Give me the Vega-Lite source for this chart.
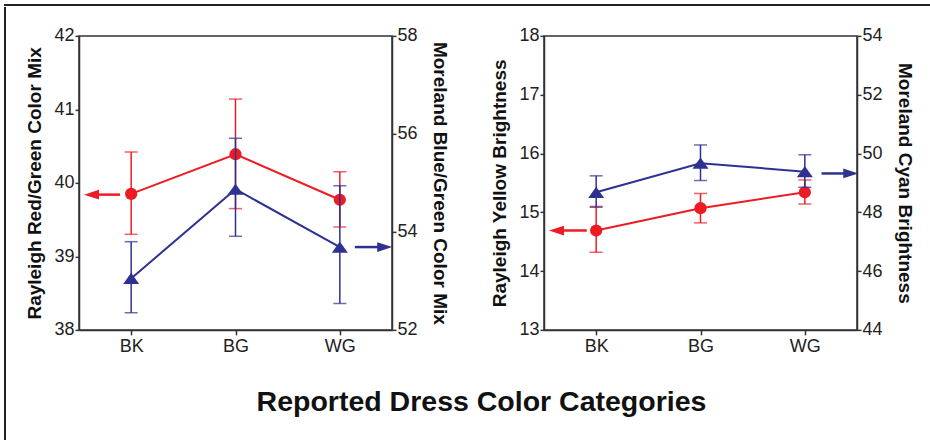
{
  "$schema": "https://vega.github.io/schema/vega-lite/v6.json",
  "padding": {"left": 4, "top": 4, "right": 0, "bottom": 0},
  "autosize": {"type": "pad"},
  "spacing": 0,
  "config": {
    "font": "Liberation Sans",
    "view": {"stroke": null},
    "axis": {
      "labelFont": "Liberation Sans", "labelFontSize": 18, "labelColor": "#222",
      "titleFont": "Liberation Sans", "titleFontSize": 19, "titleFontWeight": "bold", "titleColor": "#111",
      "domainColor": "#333", "domainWidth": 1.5, "tickColor": "#333", "tickWidth": 1.5, "tickSize": 4,
      "labelPadding": 1, "grid": false
    }
  },
  "datasets": {
    "p1": [
      {"pos": 1, "cat": "BK", "m": "R", "mean": 39.85, "lo": 39.30, "hi": 40.42},
      {"pos": 2, "cat": "BG", "m": "R", "mean": 40.39, "lo": 39.65, "hi": 41.14},
      {"pos": 3, "cat": "WG", "m": "R", "mean": 39.77, "lo": 39.40, "hi": 40.15},
      {"pos": 1, "cat": "BK", "m": "M", "mean": 53.05, "lo": 52.35, "hi": 53.80},
      {"pos": 2, "cat": "BG", "m": "M", "mean": 54.87, "lo": 53.91, "hi": 55.91},
      {"pos": 3, "cat": "WG", "m": "M", "mean": 53.69, "lo": 52.54, "hi": 54.94}
    ],
    "a1": [
      {"m": "R", "tail": 0.894, "head": 0.62, "y": 39.84},
      {"m": "M", "tail": 3.144, "head": 3.43, "y": 53.69}
    ],
    "p2": [
      {"pos": 1, "cat": "BK", "m": "R", "mean": 14.69, "lo": 14.32, "hi": 15.10},
      {"pos": 2, "cat": "BG", "m": "R", "mean": 15.07, "lo": 14.82, "hi": 15.32},
      {"pos": 3, "cat": "WG", "m": "R", "mean": 15.34, "lo": 15.14, "hi": 15.55},
      {"pos": 1, "cat": "BK", "m": "M", "mean": 48.68, "lo": 48.17, "hi": 49.24},
      {"pos": 2, "cat": "BG", "m": "M", "mean": 49.67, "lo": 49.08, "hi": 50.29},
      {"pos": 3, "cat": "WG", "m": "M", "mean": 49.38, "lo": 48.85, "hi": 49.96}
    ],
    "a2": [
      {"m": "R", "tail": 0.91, "head": 0.62, "y": 14.69},
      {"m": "M", "tail": 3.16, "head": 3.44, "y": 49.32}
    ]
  },
  "vconcat": [
    {
      "width": 925, "height": 0.01,
      "data": {"values": []},
      "mark": "rule", "encoding": {},
      "view": {"stroke": "#222", "strokeWidth": 2}
    },
    {
      "spacing": 18,
      "center": true,
      "hconcat": [
        {
          "width": 0.01, "height": 435,
          "data": {"values": []},
          "mark": "rule", "encoding": {},
          "view": {"stroke": "#222", "strokeWidth": 2}
        },
        {
          "spacing": 41,
          "title": {"text": "Reported Dress Color Categories", "orient": "bottom", "anchor": "middle", "fontSize": 28.5, "fontWeight": "bold", "font": "Liberation Sans", "color": "#111", "offset": 31, "dx": 12},
          "hconcat": [
            {
              "width": 313, "height": 294,
              "view": {"stroke": "#333", "strokeWidth": 1.5},
              "resolve": {"scale": {"y": "independent"}},
              "layer": [
                {
                  "data": {"name": "p1"},
                  "transform": [{"filter": "datum.m == 'R'"}],
                  "layer": [
                    {"mark": {"type": "rule", "color": "#ed1c24", "strokeWidth": 1.5},
                     "encoding": {
                       "x": {"field": "pos", "type": "quantitative", "scale": {"domain": [0.5, 3.5], "nice": false, "zero": false}, "axis": {"values": [1, 2, 3], "labelExpr": "datum.value == 1 ? 'BK' : datum.value == 2 ? 'BG' : 'WG'", "title": null, "tickSize": 5, "labelPadding": 3, "labelFontSize": 18, "labelFont": "Liberation Sans", "labelColor": "#222"}},
                       "y": {"field": "lo", "type": "quantitative", "scale": {"domain": [38, 42], "nice": false, "zero": false}, "axis": {"orient": "left", "values": [38, 39, 40, 41, 42], "format": "d", "labelFontSize": 18, "labelFont": "Liberation Sans", "labelColor": "#222", "labelPadding": 1, "tickSize": 4, "title": "Rayleigh Red/Green Color Mix", "titleFontSize": 19, "titleFontWeight": "bold", "titleFont": "Liberation Sans", "titleColor": "#111", "titlePadding": 9}},
                       "y2": {"field": "hi"}}},
                    {"mark": {"type": "tick", "orient": "horizontal", "color": "#ed1c24", "size": 13, "thickness": 1.5},
                     "encoding": {
                       "x": {"field": "pos", "type": "quantitative", "scale": {"domain": [0.5, 3.5], "nice": false, "zero": false}},
                       "y": {"field": "lo", "type": "quantitative", "scale": {"domain": [38, 42], "nice": false, "zero": false}}}},
                    {"mark": {"type": "tick", "orient": "horizontal", "color": "#ed1c24", "size": 13, "thickness": 1.5},
                     "encoding": {
                       "x": {"field": "pos", "type": "quantitative", "scale": {"domain": [0.5, 3.5], "nice": false, "zero": false}},
                       "y": {"field": "hi", "type": "quantitative", "scale": {"domain": [38, 42], "nice": false, "zero": false}}}},
                    {"mark": {"type": "line", "color": "#ed1c24", "strokeWidth": 2},
                     "encoding": {
                       "x": {"field": "pos", "type": "quantitative", "scale": {"domain": [0.5, 3.5], "nice": false, "zero": false}},
                       "y": {"field": "mean", "type": "quantitative", "scale": {"domain": [38, 42], "nice": false, "zero": false}}}},
                    {"mark": {"type": "point", "shape": "circle", "filled": true, "opacity": 1, "size": 150, "color": "#ed1c24"},
                     "encoding": {
                       "x": {"field": "pos", "type": "quantitative", "scale": {"domain": [0.5, 3.5], "nice": false, "zero": false}},
                       "y": {"field": "mean", "type": "quantitative", "scale": {"domain": [38, 42], "nice": false, "zero": false}}}},
                    {"data": {"name": "a1"}, "transform": [{"filter": "datum.m == 'R'"}],
                     "mark": {"type": "rule", "color": "#ed1c24", "strokeWidth": 2.5},
                     "encoding": {
                       "x": {"field": "tail", "type": "quantitative", "scale": {"domain": [0.5, 3.5], "nice": false, "zero": false}},
                       "x2": {"field": "head"},
                       "y": {"field": "y", "type": "quantitative", "scale": {"domain": [38, 42], "nice": false, "zero": false}}}},
                    {"data": {"name": "a1"}, "transform": [{"filter": "datum.m == 'R'"}],
                     "mark": {"type": "point", "shape": "M1,-0.65L-1,0L1,0.65Z", "filled": true, "opacity": 1, "size": 225, "color": "#ed1c24", "strokeWidth": 0},
                     "encoding": {
                       "x": {"field": "head", "type": "quantitative", "scale": {"domain": [0.5, 3.5], "nice": false, "zero": false}},
                       "y": {"field": "y", "type": "quantitative", "scale": {"domain": [38, 42], "nice": false, "zero": false}}}}
                  ]
                },
                {
                  "data": {"name": "p1"},
                  "transform": [{"filter": "datum.m == 'M'"}],
                  "layer": [
                    {"mark": {"type": "rule", "color": "#2e3192", "strokeWidth": 1.5},
                     "encoding": {
                       "x": {"field": "pos", "type": "quantitative", "scale": {"domain": [0.5, 3.5], "nice": false, "zero": false}},
                       "y": {"field": "lo", "type": "quantitative", "scale": {"domain": [52, 58], "nice": false, "zero": false}, "axis": {"orient": "right", "values": [52, 54, 56, 58], "format": "d", "labelFontSize": 18, "labelFont": "Liberation Sans", "labelColor": "#222", "labelPadding": 1, "tickSize": 4, "title": "Moreland Blue/Green Color Mix", "titleFontSize": 19, "titleFontWeight": "bold", "titleFont": "Liberation Sans", "titleColor": "#111", "titlePadding": 12}},
                       "y2": {"field": "hi"}}},
                    {"mark": {"type": "tick", "orient": "horizontal", "color": "#2e3192", "size": 13, "thickness": 1.5},
                     "encoding": {
                       "x": {"field": "pos", "type": "quantitative", "scale": {"domain": [0.5, 3.5], "nice": false, "zero": false}},
                       "y": {"field": "lo", "type": "quantitative", "scale": {"domain": [52, 58], "nice": false, "zero": false}}}},
                    {"mark": {"type": "tick", "orient": "horizontal", "color": "#2e3192", "size": 13, "thickness": 1.5},
                     "encoding": {
                       "x": {"field": "pos", "type": "quantitative", "scale": {"domain": [0.5, 3.5], "nice": false, "zero": false}},
                       "y": {"field": "hi", "type": "quantitative", "scale": {"domain": [52, 58], "nice": false, "zero": false}}}},
                    {"mark": {"type": "line", "color": "#2e3192", "strokeWidth": 2},
                     "encoding": {
                       "x": {"field": "pos", "type": "quantitative", "scale": {"domain": [0.5, 3.5], "nice": false, "zero": false}},
                       "y": {"field": "mean", "type": "quantitative", "scale": {"domain": [52, 58], "nice": false, "zero": false}}}},
                    {"mark": {"type": "point", "shape": "M0,-0.7L1,0.7L-1,0.7Z", "filled": true, "opacity": 1, "size": 256, "color": "#2e3192", "strokeWidth": 0},
                     "encoding": {
                       "x": {"field": "pos", "type": "quantitative", "scale": {"domain": [0.5, 3.5], "nice": false, "zero": false}},
                       "y": {"field": "mean", "type": "quantitative", "scale": {"domain": [52, 58], "nice": false, "zero": false}}}},
                    {"data": {"name": "a1"}, "transform": [{"filter": "datum.m == 'M'"}],
                     "mark": {"type": "rule", "color": "#2e3192", "strokeWidth": 2.5},
                     "encoding": {
                       "x": {"field": "tail", "type": "quantitative", "scale": {"domain": [0.5, 3.5], "nice": false, "zero": false}},
                       "x2": {"field": "head"},
                       "y": {"field": "y", "type": "quantitative", "scale": {"domain": [52, 58], "nice": false, "zero": false}}}},
                    {"data": {"name": "a1"}, "transform": [{"filter": "datum.m == 'M'"}],
                     "mark": {"type": "point", "shape": "M-1,-0.65L1,0L-1,0.65Z", "filled": true, "opacity": 1, "size": 225, "color": "#2e3192", "strokeWidth": 0},
                     "encoding": {
                       "x": {"field": "head", "type": "quantitative", "scale": {"domain": [0.5, 3.5], "nice": false, "zero": false}},
                       "y": {"field": "y", "type": "quantitative", "scale": {"domain": [52, 58], "nice": false, "zero": false}}}}
                  ]
                }
              ]
            },
            {
              "width": 313, "height": 294,
              "view": {"stroke": "#333", "strokeWidth": 1.5},
              "resolve": {"scale": {"y": "independent"}},
              "layer": [
                {
                  "data": {"name": "p2"},
                  "transform": [{"filter": "datum.m == 'R'"}],
                  "layer": [
                    {"mark": {"type": "rule", "color": "#ed1c24", "strokeWidth": 1.5},
                     "encoding": {
                       "x": {"field": "pos", "type": "quantitative", "scale": {"domain": [0.5, 3.5], "nice": false, "zero": false}, "axis": {"values": [1, 2, 3], "labelExpr": "datum.value == 1 ? 'BK' : datum.value == 2 ? 'BG' : 'WG'", "title": null, "tickSize": 5, "labelPadding": 3, "labelFontSize": 18, "labelFont": "Liberation Sans", "labelColor": "#222"}},
                       "y": {"field": "lo", "type": "quantitative", "scale": {"domain": [13, 18], "nice": false, "zero": false}, "axis": {"orient": "left", "values": [13, 14, 15, 16, 17, 18], "format": "d", "labelFontSize": 18, "labelFont": "Liberation Sans", "labelColor": "#222", "labelPadding": 1, "tickSize": 4, "title": "Rayleigh Yellow Brightness", "titleFontSize": 19, "titleFontWeight": "bold", "titleFont": "Liberation Sans", "titleColor": "#111", "titlePadding": 9}},
                       "y2": {"field": "hi"}}},
                    {"mark": {"type": "tick", "orient": "horizontal", "color": "#ed1c24", "size": 13, "thickness": 1.5},
                     "encoding": {
                       "x": {"field": "pos", "type": "quantitative", "scale": {"domain": [0.5, 3.5], "nice": false, "zero": false}},
                       "y": {"field": "lo", "type": "quantitative", "scale": {"domain": [13, 18], "nice": false, "zero": false}}}},
                    {"mark": {"type": "tick", "orient": "horizontal", "color": "#ed1c24", "size": 13, "thickness": 1.5},
                     "encoding": {
                       "x": {"field": "pos", "type": "quantitative", "scale": {"domain": [0.5, 3.5], "nice": false, "zero": false}},
                       "y": {"field": "hi", "type": "quantitative", "scale": {"domain": [13, 18], "nice": false, "zero": false}}}},
                    {"mark": {"type": "line", "color": "#ed1c24", "strokeWidth": 2},
                     "encoding": {
                       "x": {"field": "pos", "type": "quantitative", "scale": {"domain": [0.5, 3.5], "nice": false, "zero": false}},
                       "y": {"field": "mean", "type": "quantitative", "scale": {"domain": [13, 18], "nice": false, "zero": false}}}},
                    {"mark": {"type": "point", "shape": "circle", "filled": true, "opacity": 1, "size": 150, "color": "#ed1c24"},
                     "encoding": {
                       "x": {"field": "pos", "type": "quantitative", "scale": {"domain": [0.5, 3.5], "nice": false, "zero": false}},
                       "y": {"field": "mean", "type": "quantitative", "scale": {"domain": [13, 18], "nice": false, "zero": false}}}},
                    {"data": {"name": "a2"}, "transform": [{"filter": "datum.m == 'R'"}],
                     "mark": {"type": "rule", "color": "#ed1c24", "strokeWidth": 2.5},
                     "encoding": {
                       "x": {"field": "tail", "type": "quantitative", "scale": {"domain": [0.5, 3.5], "nice": false, "zero": false}},
                       "x2": {"field": "head"},
                       "y": {"field": "y", "type": "quantitative", "scale": {"domain": [13, 18], "nice": false, "zero": false}}}},
                    {"data": {"name": "a2"}, "transform": [{"filter": "datum.m == 'R'"}],
                     "mark": {"type": "point", "shape": "M1,-0.65L-1,0L1,0.65Z", "filled": true, "opacity": 1, "size": 225, "color": "#ed1c24", "strokeWidth": 0},
                     "encoding": {
                       "x": {"field": "head", "type": "quantitative", "scale": {"domain": [0.5, 3.5], "nice": false, "zero": false}},
                       "y": {"field": "y", "type": "quantitative", "scale": {"domain": [13, 18], "nice": false, "zero": false}}}}
                  ]
                },
                {
                  "data": {"name": "p2"},
                  "transform": [{"filter": "datum.m == 'M'"}],
                  "layer": [
                    {"mark": {"type": "rule", "color": "#2e3192", "strokeWidth": 1.5},
                     "encoding": {
                       "x": {"field": "pos", "type": "quantitative", "scale": {"domain": [0.5, 3.5], "nice": false, "zero": false}},
                       "y": {"field": "lo", "type": "quantitative", "scale": {"domain": [44, 54], "nice": false, "zero": false}, "axis": {"orient": "right", "values": [44, 46, 48, 50, 52, 54], "format": "d", "labelFontSize": 18, "labelFont": "Liberation Sans", "labelColor": "#222", "labelPadding": 1, "tickSize": 4, "title": "Moreland Cyan Brightness", "titleFontSize": 19, "titleFontWeight": "bold", "titleFont": "Liberation Sans", "titleColor": "#111", "titlePadding": 12}},
                       "y2": {"field": "hi"}}},
                    {"mark": {"type": "tick", "orient": "horizontal", "color": "#2e3192", "size": 13, "thickness": 1.5},
                     "encoding": {
                       "x": {"field": "pos", "type": "quantitative", "scale": {"domain": [0.5, 3.5], "nice": false, "zero": false}},
                       "y": {"field": "lo", "type": "quantitative", "scale": {"domain": [44, 54], "nice": false, "zero": false}}}},
                    {"mark": {"type": "tick", "orient": "horizontal", "color": "#2e3192", "size": 13, "thickness": 1.5},
                     "encoding": {
                       "x": {"field": "pos", "type": "quantitative", "scale": {"domain": [0.5, 3.5], "nice": false, "zero": false}},
                       "y": {"field": "hi", "type": "quantitative", "scale": {"domain": [44, 54], "nice": false, "zero": false}}}},
                    {"mark": {"type": "line", "color": "#2e3192", "strokeWidth": 2},
                     "encoding": {
                       "x": {"field": "pos", "type": "quantitative", "scale": {"domain": [0.5, 3.5], "nice": false, "zero": false}},
                       "y": {"field": "mean", "type": "quantitative", "scale": {"domain": [44, 54], "nice": false, "zero": false}}}},
                    {"mark": {"type": "point", "shape": "M0,-0.7L1,0.7L-1,0.7Z", "filled": true, "opacity": 1, "size": 256, "color": "#2e3192", "strokeWidth": 0},
                     "encoding": {
                       "x": {"field": "pos", "type": "quantitative", "scale": {"domain": [0.5, 3.5], "nice": false, "zero": false}},
                       "y": {"field": "mean", "type": "quantitative", "scale": {"domain": [44, 54], "nice": false, "zero": false}}}},
                    {"data": {"name": "a2"}, "transform": [{"filter": "datum.m == 'M'"}],
                     "mark": {"type": "rule", "color": "#2e3192", "strokeWidth": 2.5},
                     "encoding": {
                       "x": {"field": "tail", "type": "quantitative", "scale": {"domain": [0.5, 3.5], "nice": false, "zero": false}},
                       "x2": {"field": "head"},
                       "y": {"field": "y", "type": "quantitative", "scale": {"domain": [44, 54], "nice": false, "zero": false}}}},
                    {"data": {"name": "a2"}, "transform": [{"filter": "datum.m == 'M'"}],
                     "mark": {"type": "point", "shape": "M-1,-0.65L1,0L-1,0.65Z", "filled": true, "opacity": 1, "size": 225, "color": "#2e3192", "strokeWidth": 0},
                     "encoding": {
                       "x": {"field": "head", "type": "quantitative", "scale": {"domain": [0.5, 3.5], "nice": false, "zero": false}},
                       "y": {"field": "y", "type": "quantitative", "scale": {"domain": [44, 54], "nice": false, "zero": false}}}}
                  ]
                }
              ]
            }
          ]
        }
      ]
    }
  ]
}
